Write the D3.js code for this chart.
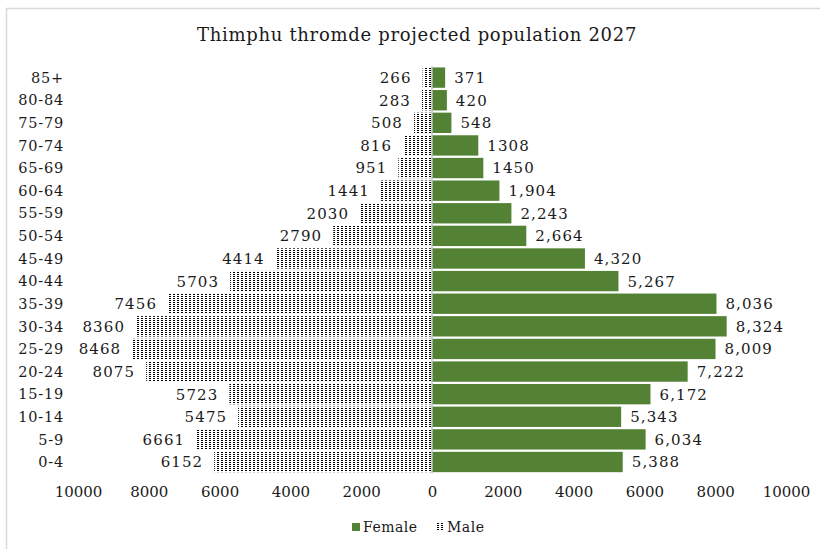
<!DOCTYPE html>
<html>
<head>
<meta charset="utf-8">
<script src="https://cdn.jsdelivr.net/npm/d3@7"></script>
<style>
  html, body { margin: 0; padding: 0; background: #fff; }
  svg { display: block; font-family: "DejaVu Serif", "Liberation Serif", serif; }
</style>
</head>
<body>
<svg id="chart" width="820" height="549"></svg>
<script>
// Age groups, from oldest (top) to youngest (bottom)
const ageGroups = ["85+", "80-84", "75-79", "70-74", "65-69", "60-64", "55-59", "50-54",
  "45-49", "40-44", "35-39", "30-34", "25-29", "20-24", "15-19", "10-14", "5-9", "0-4"];
const male = [266, 283, 508, 816, 951, 1441, 2030, 2790, 4414, 5703, 7456, 8360, 8468,
  8075, 5723, 5475, 6661, 6152];
const female = [371, 420, 548, 1308, 1450, 1904, 2243, 2664, 4320, 5267, 8036, 8324, 8009,
  7222, 6172, 5343, 6034, 5388];
// Female labels switch to thousands separators from the 60-64 group downward
const femaleUsesComma = [false, false, false, false, false, true, true, true, true, true,
  true, true, true, true, true, true, true, true];
const xTicks = [-10000, -8000, -6000, -4000, -2000, 0, 2000, 4000, 6000, 8000, 10000];
const title = "Thimphu thromde projected population 2027";
const seriesNames = ["Female", "Male"];

const svg = d3.select("#chart");
const greenFill = "#548235";
const textColor = "#1a1a1a";

// dotted fill used for the male bars
const defs = svg.append("defs");
const pat = defs.append("pattern")
  .attr("id", "dots").attr("patternUnits", "userSpaceOnUse")
  .attr("width", 4).attr("height", 4);
pat.append("rect").attr("width", 4).attr("height", 4).attr("fill", "#fff");
pat.append("rect").attr("x", 1).attr("y", 0).attr("width", 2).attr("height", 1).attr("fill", "#000");
pat.append("rect").attr("x", 1).attr("y", 2).attr("width", 2).attr("height", 1).attr("fill", "#000");

// chart frame
svg.append("rect")
  .attr("x", 6.5).attr("y", 8.5).attr("width", 830).attr("height", 560)
  .attr("fill", "none").attr("stroke", "#d9d9d9").attr("stroke-width", 1.5);

const x = d3.scaleLinear().domain([-10000, 10000]).range([78, 786]);
const y = d3.scaleBand().domain(ageGroups).range([66.3, 473.3]).paddingInner(0.1).paddingOuter(0.05);

// title
svg.append("text")
  .attr("x", 417).attr("y", 40.5)
  .attr("text-anchor", "middle")
  .attr("font-size", 18).attr("letter-spacing", 0.7).attr("fill", textColor)
  .text(title);

const rows = ageGroups.map((g, i) => ({ g, m: male[i], f: female[i], comma: femaleUsesComma[i] }));

// male bars (left)
svg.append("g").selectAll("rect").data(rows).join("rect")
  .attr("x", d => x(-d.m)).attr("y", d => y(d.g))
  .attr("width", d => x(0) - x(-d.m)).attr("height", y.bandwidth())
  .attr("fill", "url(#dots)");

// female bars (right)
svg.append("g").selectAll("rect").data(rows).join("rect")
  .attr("x", x(0)).attr("y", d => y(d.g))
  .attr("width", d => x(d.f) - x(0)).attr("height", y.bandwidth())
  .attr("fill", greenFill);

// zero line
svg.append("line")
  .attr("x1", x(0)).attr("x2", x(0))
  .attr("y1", y.range()[0]).attr("y2", y.range()[1])
  .attr("stroke", "#bfbfbf").attr("stroke-width", 1.5);

// value labels
const fmtComma = d3.format(",");
svg.append("g").selectAll("text").data(rows).join("text")
  .attr("x", d => x(-d.m) - 11).attr("y", d => y(d.g) + y.bandwidth() / 2)
  .attr("dy", "0.36em").attr("text-anchor", "end")
  .attr("font-size", 15).attr("letter-spacing", 1.1).attr("fill", textColor)
  .text(d => String(d.m));
svg.append("g").selectAll("text").data(rows).join("text")
  .attr("x", d => x(d.f) + 9).attr("y", d => y(d.g) + y.bandwidth() / 2)
  .attr("dy", "0.36em").attr("text-anchor", "start")
  .attr("font-size", 15).attr("letter-spacing", 1.1).attr("fill", textColor)
  .text(d => d.comma ? fmtComma(d.f) : String(d.f));

// age group labels
svg.append("g").selectAll("text").data(ageGroups).join("text")
  .attr("x", 64).attr("y", d => y(d) + y.bandwidth() / 2)
  .attr("dy", "0.36em").attr("text-anchor", "end")
  .attr("font-size", 14.5).attr("letter-spacing", 0.8).attr("fill", textColor)
  .text(d => d);

// bottom axis
const axis = d3.axisBottom(x).tickValues(xTicks).tickSize(0).tickPadding(0)
  .tickFormat(d => String(Math.abs(d)));
const axG = svg.append("g").attr("transform", "translate(0,486)").call(axis);
axG.select(".domain").remove();
axG.selectAll("text")
  .attr("font-family", "DejaVu Serif, serif")
  .attr("font-size", 15).attr("fill", textColor).attr("dy", "0.71em");

// legend
const lg = svg.append("g").attr("transform", "translate(352,523)");
lg.append("rect").attr("x", 0).attr("y", 0).attr("width", 8).attr("height", 8).attr("fill", greenFill);
lg.append("text").attr("x", 11).attr("y", 4).attr("dy", "0.36em")
  .attr("font-size", 14).attr("letter-spacing", 0.5).attr("fill", textColor).text(seriesNames[0]);
lg.append("rect").attr("x", 84).attr("y", 0).attr("width", 7).attr("height", 8).attr("fill", "url(#dots)");
lg.append("text").attr("x", 95).attr("y", 4).attr("dy", "0.36em")
  .attr("font-size", 14).attr("letter-spacing", 0.5).attr("fill", textColor).text(seriesNames[1]);
</script>
</body>
</html>
